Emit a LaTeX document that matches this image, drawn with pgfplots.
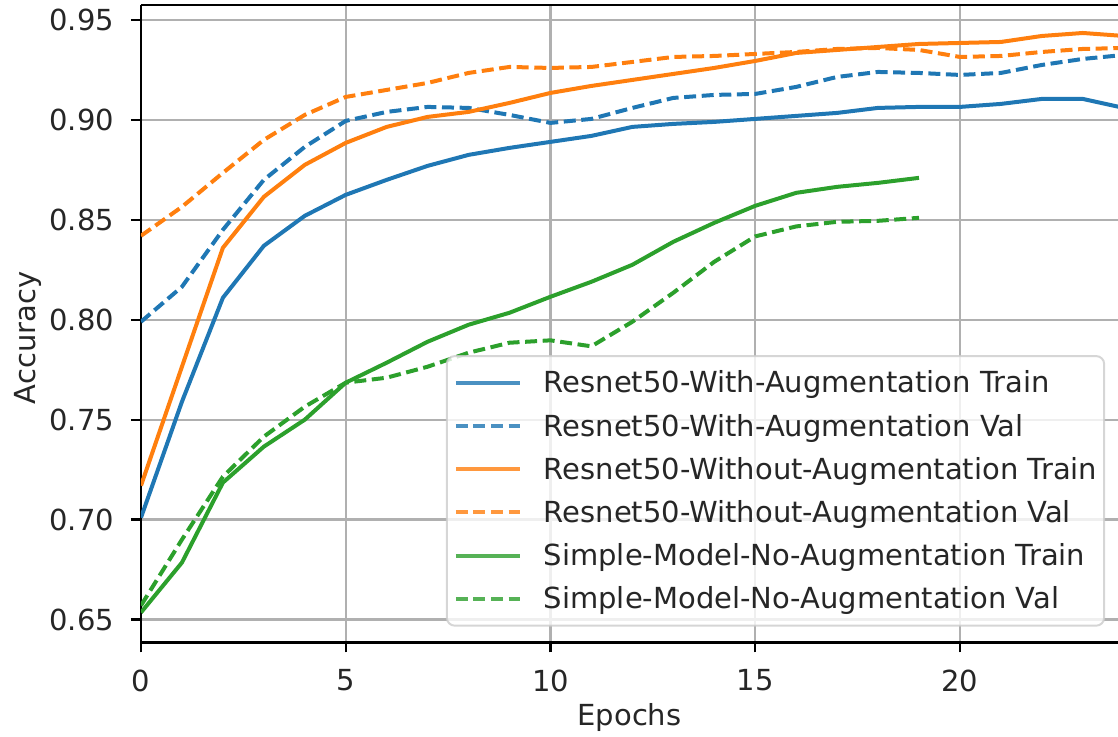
\documentclass[border=0pt]{standalone}
\usepackage{fontspec}
\setmainfont{DejaVu Sans}
\usepackage{pgfplots}
\pgfplotsset{compat=1.18}
\usetikzlibrary{calc}
\definecolor{mplblue}{HTML}{1F77B4}
\definecolor{mplorange}{HTML}{FF7F0E}
\definecolor{mplgreen}{HTML}{2CA02C}
\definecolor{gridgray}{HTML}{B0B0B0}
\definecolor{legedge}{HTML}{CCCCCC}

\begin{document}
\begin{tikzpicture}
\begin{axis}[
    name=ax,
    scale only axis,
    width=488.5pt,
    height=318.75pt,
    xmin=0, xmax=23.86,
    ymin=0.6385, ymax=0.9575,
    axis x line*=box,
    axis y line*=left,
    axis line style={black, line width=1.1pt},
    xtick={0,5,10,15,20},
    ytick={0.65,0.70,0.75,0.80,0.85,0.90,0.95},
    xtick pos=bottom, ytick pos=left,
    tick align=outside,
    major tick length=5pt,
    tick style={black, line width=1.1pt},
    yticklabel style={xshift=-5pt, /pgf/number format/.cd, fixed, fixed zerofill, precision=2},
    xticklabel style={yshift=-5pt},
    /pgf/number format/assume math mode=true,
    tick label style={font=\fontsize{14.5}{17}\selectfont, color=black!85},
    xlabel={Epochs},
    ylabel={Accuracy},
    every axis x label/.style={at={(axis description cs:0.5,-0.1169)}, anchor=center,
        font=\fontsize{14.5}{17}\selectfont, color=black!85},
    every axis y label/.style={at={(axis description cs:-0.1157,0.4776)}, rotate=90, anchor=center,
        font=\fontsize{14.5}{17}\selectfont, color=black!85},
    grid=major,
    grid style={gridgray, line width=1.1pt},
    legend cell align=left,
    legend image code/.code={\draw[#1] (0pt,0pt) -- (32pt,0pt);},
    legend style={
        at={(0.312,0.0248)}, anchor=south west,
        draw=legedge, line width=1pt, rounded corners=4pt,
        fill=white, fill opacity=0.8, draw opacity=0.8, text opacity=1,
        font=\fontsize{14.5}{17}\selectfont,
        text=black!85,
        inner xsep=3.5pt, inner ysep=4.4pt,
        row sep=3.6pt, column sep=11pt,
        nodes={inner sep=0pt, text height=14pt, text depth=4pt},
    },
    every axis plot/.append style={line width=2pt},
]
\addplot[mplblue] coordinates {
    (0,0.701) (1,0.759) (2,0.811) (3,0.837) (4,0.852) (5,0.8625) (6,0.870)
    (7,0.877) (8,0.8825) (9,0.886) (10,0.889) (11,0.892) (12,0.8965)
    (13,0.898) (14,0.899) (15,0.9005) (16,0.902) (17,0.9035) (18,0.906)
    (19,0.9065) (20,0.9065) (21,0.908) (22,0.9105) (23,0.9105) (24,0.906)
};
\addlegendentry{Resnet50-With-Augmentation Train}
\addplot[mplblue, dash pattern=on 6pt off 2.8pt] coordinates {
    (0,0.799) (1,0.8165) (2,0.845) (3,0.870) (4,0.8865) (5,0.8995) (6,0.904)
    (7,0.9065) (8,0.906) (9,0.9025) (10,0.8985) (11,0.9005) (12,0.906)
    (13,0.911) (14,0.9125) (15,0.913) (16,0.9165) (17,0.9215) (18,0.924)
    (19,0.9235) (20,0.9225) (21,0.9235) (22,0.9275) (23,0.9305) (24,0.9325)
};
\addlegendentry{Resnet50-With-Augmentation Val}
\addplot[mplorange] coordinates {
    (0,0.717) (1,0.7765) (2,0.836) (3,0.8615) (4,0.8775) (5,0.8885) (6,0.8965)
    (7,0.9015) (8,0.904) (9,0.9085) (10,0.9135) (11,0.917) (12,0.920)
    (13,0.923) (14,0.926) (15,0.9295) (16,0.9335) (17,0.935) (18,0.9365)
    (19,0.938) (20,0.9385) (21,0.939) (22,0.942) (23,0.9435) (24,0.942)
};
\addlegendentry{Resnet50-Without-Augmentation Train}
\addplot[mplorange, dash pattern=on 6pt off 2.8pt] coordinates {
    (0,0.842) (1,0.8565) (2,0.8735) (3,0.890) (4,0.9025) (5,0.9115) (6,0.915)
    (7,0.9185) (8,0.9235) (9,0.9265) (10,0.926) (11,0.9265) (12,0.929)
    (13,0.9315) (14,0.932) (15,0.933) (16,0.934) (17,0.9355) (18,0.936)
    (19,0.935) (20,0.9315) (21,0.932) (22,0.934) (23,0.9355) (24,0.936)
};
\addlegendentry{Resnet50-Without-Augmentation Val}
\addplot[mplgreen] coordinates {
    (0,0.6535) (1,0.6785) (2,0.7185) (3,0.7365) (4,0.750) (5,0.7685)
    (6,0.7785) (7,0.789) (8,0.7975) (9,0.8035) (10,0.8115) (11,0.819)
    (12,0.8275) (13,0.839) (14,0.8485) (15,0.857) (16,0.8635) (17,0.8665)
    (18,0.8685) (19,0.871)
};
\addlegendentry{Simple-Model-No-Augmentation Train}
\addplot[mplgreen, dash pattern=on 6pt off 2.8pt] coordinates {
    (0,0.657) (1,0.690) (2,0.7215) (3,0.7415) (4,0.7565) (5,0.7685)
    (6,0.771) (7,0.7765) (8,0.7835) (9,0.7885) (10,0.7897) (11,0.7867)
    (12,0.799) (13,0.8135) (14,0.829) (15,0.8417) (16,0.8467) (17,0.849)
    (18,0.8495) (19,0.851)
};
\addlegendentry{Simple-Model-No-Augmentation Val}
\end{axis}
\pgfresetboundingbox
\useasboundingbox ($(ax.south west)+(-70.5pt,-47.25pt)$) rectangle ($(ax.north east)+(0pt,2.5pt)$);
\end{tikzpicture}
\end{document}
